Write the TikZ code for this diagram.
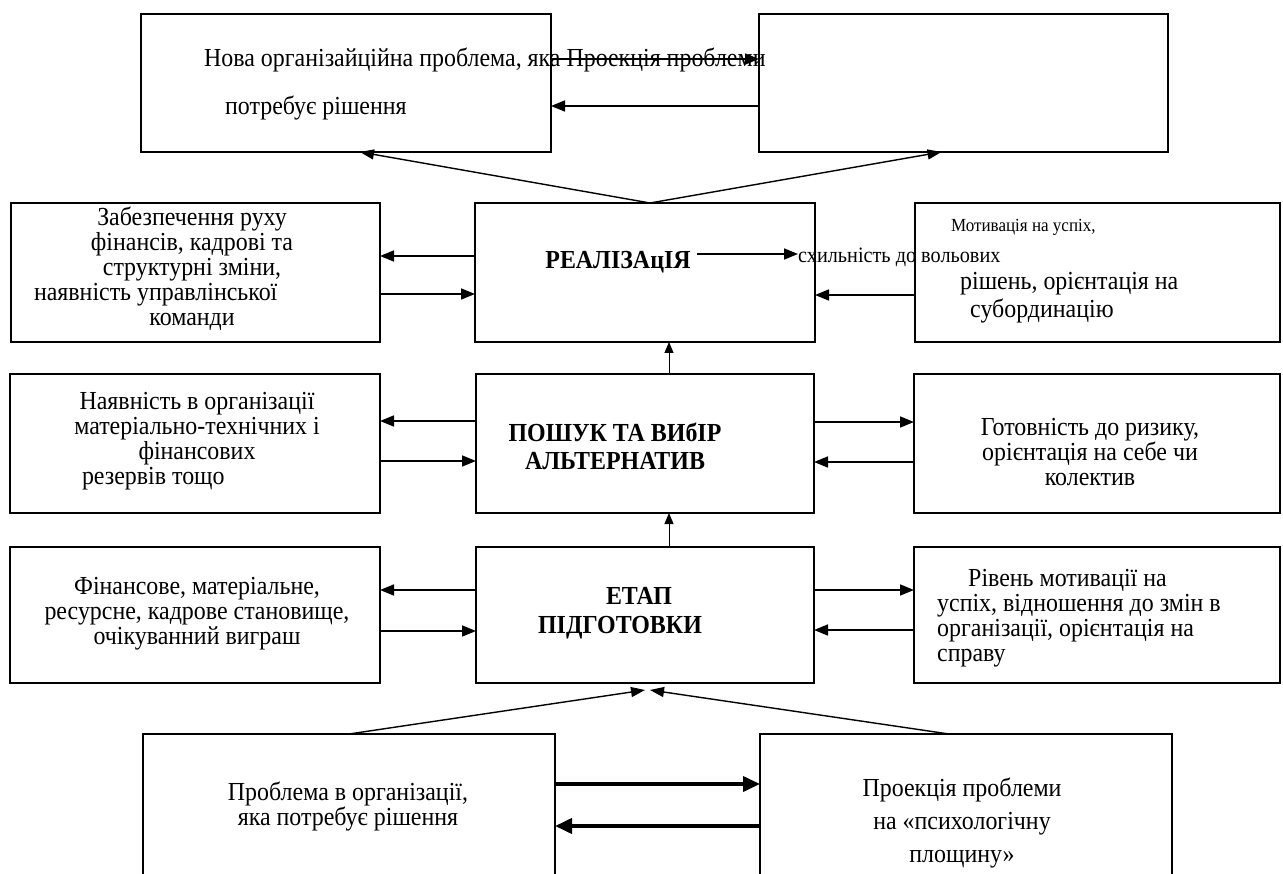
\documentclass[tikz,border=0pt]{standalone}
\usepackage{fontspec}
\setmainfont{Liberation Serif}[FakeStretch=0.92]
\usetikzlibrary{arrows.meta}
\begin{document}
\begin{tikzpicture}[x=1pt,y=-1pt,
  box/.style={draw, line width=1.3pt, inner sep=0pt, outer sep=0pt, anchor=north west},
  thickbox/.style={box, line width=2.6pt},
  arr/.style={-{Triangle[length=14pt,width=11pt]}, line width=1.7pt},
  thinarr/.style={-{Triangle[length=11pt,width=9pt]}, line width=1pt},
  diagarr/.style={-{Triangle[length=14pt,width=10pt]}, line width=1.4pt},
  bigarr/.style={-{Triangle[length=17pt,width=15pt]}, line width=3.8pt},
  txt/.style={inner sep=0pt, align=center, font=\fontsize{26}{25}\selectfont},
  btxt/.style={txt, font=\fontsize{26}{28}\selectfont\bfseries},
  small/.style={inner sep=0pt, font=\fontsize{22}{20}\selectfont}]
\useasboundingbox (0,0) rectangle (1283,874);
\fill[white] (0,0) rectangle (1283,874);
\clip (0,0) rectangle (1283,874);

% boxes
\node[box, minimum width=410pt, minimum height=138pt] (tl) at (141,14) {};
\node[box, minimum width=409pt, minimum height=138pt] (tr) at (759,14) {};
\node[box, minimum width=369pt, minimum height=139pt] (l2) at (11,203) {};
\node[box, minimum width=340pt, minimum height=139pt] (c2) at (475,203) {};
\node[box, minimum width=365pt, minimum height=139pt] (r2) at (915,203) {};
\node[box, minimum width=370pt, minimum height=139pt] (l3) at (10,374) {};
\node[box, minimum width=338pt, minimum height=139pt] (c3) at (476,374) {};
\node[box, minimum width=366pt, minimum height=139pt] (r3) at (914,374) {};
\node[box, minimum width=370pt, minimum height=136pt] (l4) at (10,547) {};
\node[box, minimum width=338pt, minimum height=136pt] (c4) at (476,547) {};
\node[box, minimum width=366pt, minimum height=136pt] (r4) at (914,547) {};
\node[thickbox, minimum width=412pt, minimum height=200pt] (bl) at (143,734) {};
\node[thickbox, minimum width=412pt, minimum height=200pt] (br) at (760,734) {};

% texts
\node[txt, align=left, anchor=west] (t1) at (204,84)
  {Нова організайційна проблема, яка Проекція проблеми\\[23pt]\hspace*{21pt}потребує рішення};
\node[txt] (l2t) at (192,269) {Забезпечення руху\\фінансів, кадрові та\\структурні зміни,\\\makebox[316pt][l]{наявність управлінської}\\команди};
\node[btxt, inner xsep=6pt] (t2) at (618,262) {РЕАЛІЗАцІЯ};
\node[small, anchor=west] (sk) at (798,257) {схильність до вольових};
\node[small, anchor=west, font=\fontsize{18.5}{20}\selectfont] (m1) at (951,227) {Мотивація на успіх,};
\node[txt, align=left, anchor=west, font=\fontsize{26}{28}\selectfont] (r2t) at (960,298) {рішень, орієнтація на\\\hspace*{10pt}субординацію};
\node[txt] (l3t) at (197,441) {Наявність в організації\\матеріально-технічних і\\фінансових\\\makebox[230pt][l]{резервів тощо}};
\node[btxt] (c3t) at (615,446) {ПОШУК ТА ВИбІР\\АЛЬТЕРНАТИВ};
\node[txt] (r3t) at (1090,452) {Готовність до ризику,\\орієнтація на себе чи\\колектив};
\node[txt] (l4t) at (197,614) {Фінансове, матеріальне,\\ресурсне, кадрове становище,\\очікуванний виграш};
\node[btxt, font=\fontsize{26}{29}\selectfont\bfseries] (c4t) at (620,613) {\hspace*{38pt}ЕТАП\\ПІДГОТОВКИ};
\node[txt, align=left, anchor=west] (r4t) at (937,618) {\hspace*{31pt}Рівень мотивації на\\успіх, відношення до змін в\\організації, орієнтація на\\справу};
\node[txt] (blt) at (348,806) {Проблема в організації,\\яка потребує рішення};
\node[txt, font=\fontsize{26}{33}\selectfont] (brt) at (962,823) {Проекція проблеми\\на «психологічну\\площину»};

% row 1
\draw[arr] (tl.east |- 0,59) -- (tr.west |- 0,59);
\draw[arr] (tr.west |- 0,106) -- (tl.east |- 0,106);
\draw[diagarr] ([xshift=5pt]c2.north) -- ([xshift=14pt]tl.south);
\draw[diagarr] ([xshift=5pt]c2.north) -- ([xshift=-22pt]tr.south);
% row 2
\draw[arr] (c2.west |- 0,256) -- (l2.east |- 0,256);
\draw[arr] (l2.east |- 0,294) -- (c2.west |- 0,294);
\draw[arr] (t2.east |- 0,254) -- (sk.west |- 0,254);
\draw[arr] (r2.west |- 0,295) -- (c2.east |- 0,295);
% verticals
\draw[thinarr] ([xshift=24pt]c3.north) -- ([xshift=24pt]c2.south);
\draw[thinarr] ([xshift=24pt]c4.north) -- ([xshift=24pt]c3.south);
% row 3
\draw[arr] (c3.west |- 0,421) -- (l3.east |- 0,421);
\draw[arr] (l3.east |- 0,461) -- (c3.west |- 0,461);
\draw[arr] (c3.east |- 0,422) -- (r3.west |- 0,422);
\draw[arr] (r3.west |- 0,462) -- (c3.east |- 0,462);
% row 4
\draw[arr] (c4.west |- 0,590) -- (l4.east |- 0,590);
\draw[arr] (l4.east |- 0,631) -- (c4.west |- 0,631);
\draw[arr] (c4.east |- 0,590) -- (r4.west |- 0,590);
\draw[arr] (r4.west |- 0,630) -- (c4.east |- 0,630);
% bottom
\draw[diagarr] (bl.north) -- ([yshift=-7pt]c4.south);
\draw[diagarr] ([xshift=-17pt]br.north) -- ([xshift=5pt,yshift=-7pt]c4.south);
\draw[bigarr] (bl.east |- 0,784) -- (br.west |- 0,784);
\draw[bigarr] (br.west |- 0,826) -- (bl.east |- 0,826);
\end{tikzpicture}
\end{document}
